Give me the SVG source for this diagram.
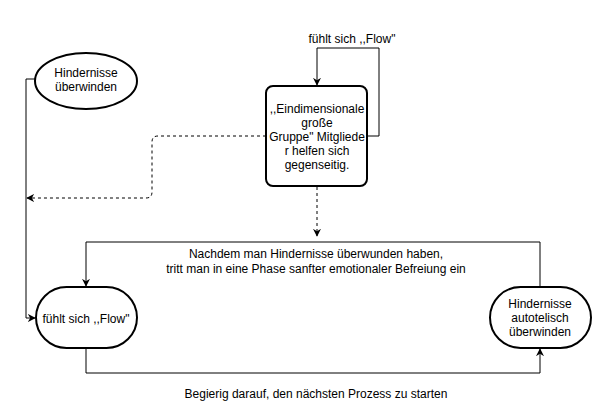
<svg xmlns="http://www.w3.org/2000/svg" width="605" height="415" viewBox="0 0 605 415">
<style>
text{font-family:"Liberation Sans",Arial,sans-serif;font-size:12px;fill:#000;text-anchor:middle}
.n{fill:#fff;stroke:#000;stroke-width:2}
.c{fill:none;stroke:#000;stroke-width:1}
.d{fill:none;stroke:#000;stroke-width:1;stroke-dasharray:3,3}
</style>
<defs>
<marker id="ah" viewBox="0 0 10 10" refX="9" refY="5" markerWidth="8" markerHeight="8" markerUnits="userSpaceOnUse" orient="auto">
<path d="M0,0 L10,5 L0,10 L3,5 Z" fill="#000"/>
</marker>
</defs>
<rect width="605" height="415" fill="#fff"/>
<g id="connectors">
<path class="c" d="M36,79 H26 V318 H35" marker-end="url(#ah)"/>
<path class="c" d="M367,136 H379 V48 H317 V85" marker-end="url(#ah)"/>
<path class="d" d="M266,136 H158 Q152,136 152,142 V192 Q152,198 146,198 H27" marker-end="url(#ah)"/>
<path class="d" d="M317,187 V236" marker-end="url(#ah)"/>
<path class="c" d="M540,287 V242 H86 V286" marker-end="url(#ah)"/>
<path class="c" d="M86,348 V373 H540 V349" marker-end="url(#ah)"/>
<text x="352" y="43">fühlt sich ,,Flow"</text>
<text x="316" y="258">Nachdem man Hindernisse überwunden haben,</text>
<text x="316" y="273">tritt man in eine Phase sanfter emotionaler Befreiung ein</text>
<text x="316" y="398">Begierig darauf, den nächsten Prozess zu starten</text>
</g>
<g id="n1">
<ellipse class="n" cx="86" cy="81" rx="51" ry="28"/>
<text x="86" y="77">Hindernisse</text>
<text x="86" y="91">überwinden</text>
</g>
<g id="n2">
<rect class="n" x="266" y="86" width="101" height="100" rx="7"/>
<text x="317" y="113">,,Eindimensionale</text>
<text x="317" y="127">große</text>
<text x="317" y="141">Gruppe" Mitgliede</text>
<text x="317" y="155">r helfen sich</text>
<text x="317" y="169">gegenseitig.</text>
</g>
<g id="n3">
<rect class="n" x="36" y="287" width="101" height="61" rx="30.5"/>
<text x="86" y="323">fühlt sich ,,Flow"</text>
</g>
<g id="n4">
<rect class="n" x="490" y="287" width="101" height="61" rx="30.5"/>
<text x="540" y="308">Hindernisse</text>
<text x="540" y="322">autotelisch</text>
<text x="540" y="336">überwinden</text>
</g>
</svg>
